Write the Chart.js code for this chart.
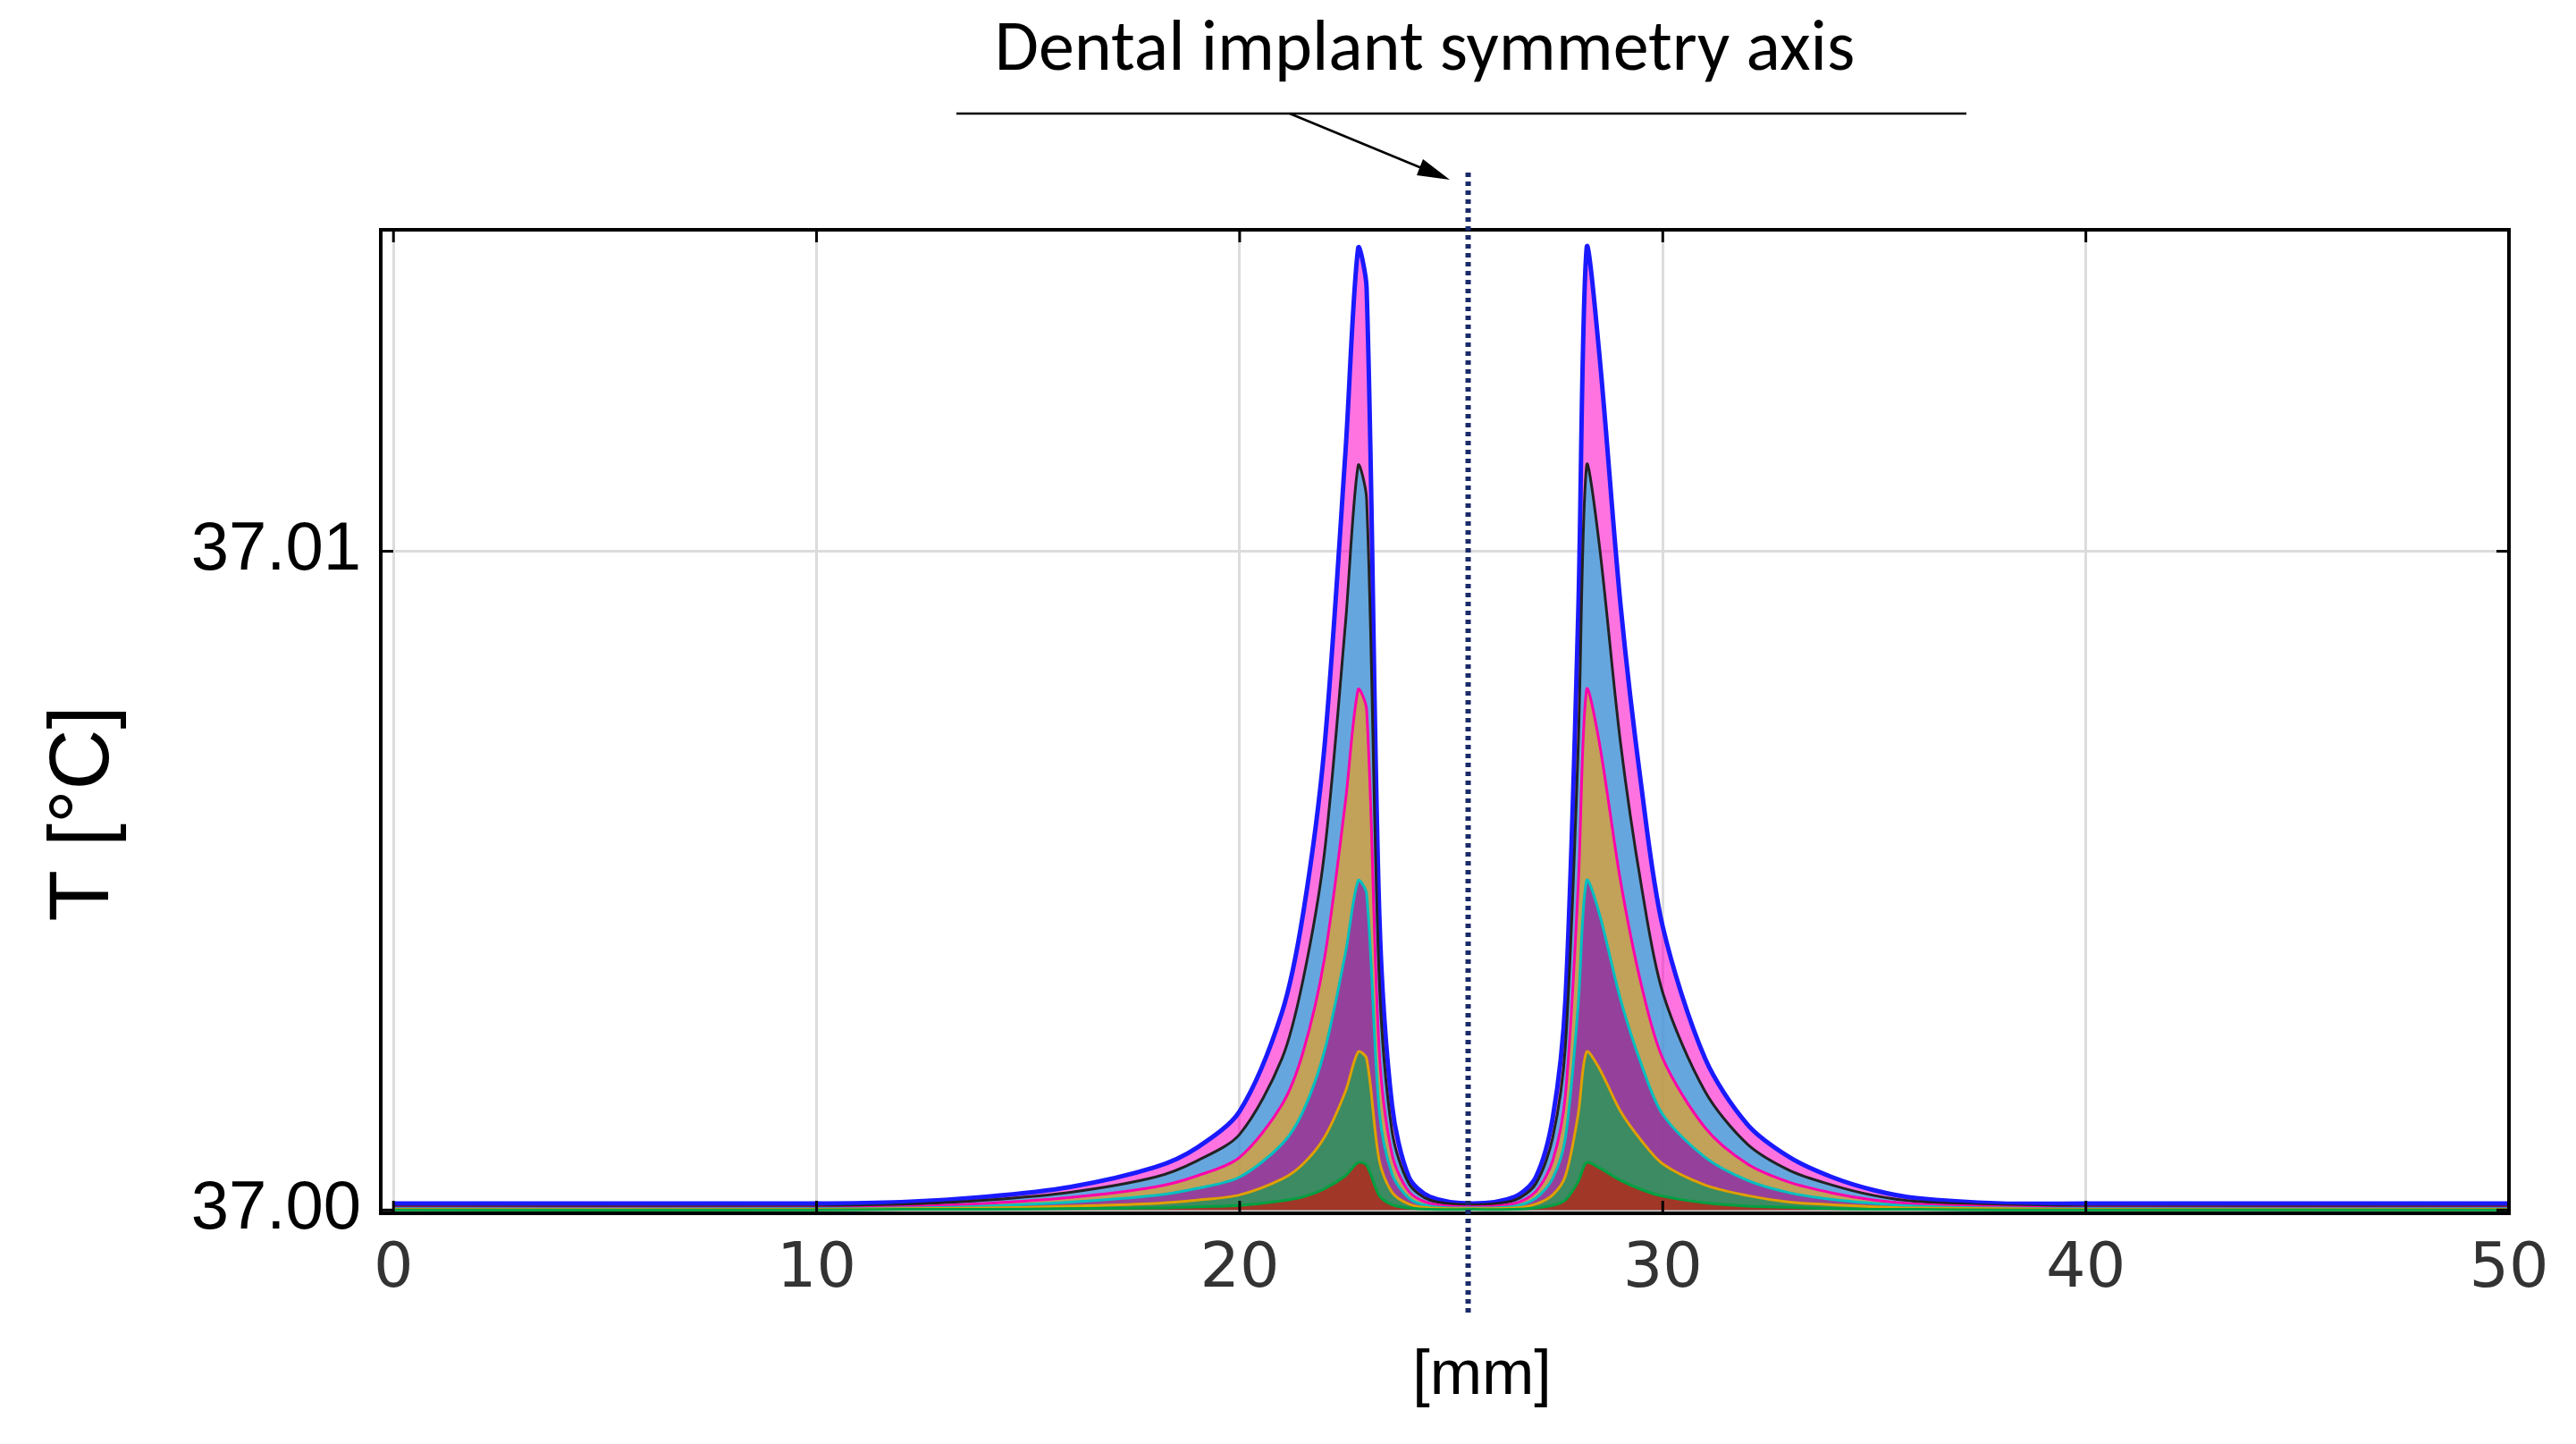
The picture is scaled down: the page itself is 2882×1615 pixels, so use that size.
<!DOCTYPE html>
<html><head><meta charset="utf-8">
<script src="https://cdn.jsdelivr.net/npm/chart.js@4.4.0/dist/chart.umd.min.js"></script>
<style>html,body{margin:0;padding:0;background:#fff}#w{width:2882px;height:1615px}</style>
</head><body><div id="w"><canvas id="c"></canvas></div>
<script>
// x positions [mm]
const xs = [0,10,12,14,16,18,19,20,21,21.5,22,22.5,22.8,23,23.3,23.6,24,24.5,25.5,26.5,27,27.4,27.7,28,28.2,28.5,29,29.5,30,31,32,33,34,35,36,38,40,50];
// temperature rise above 37 °C, in units of 0.001 °C (family of curves, outermost first)
const rise1 = [0.1,0.1,0.12,0.2,0.35,0.65,0.95,1.5,3.0,4.5,7.0,11.5,14.6,14.0,4.5,1.6,0.5,0.2,0.1,0.2,0.5,1.4,3.2,9.0,14.6,13.0,9.2,6.4,4.3,2.3,1.3,0.8,0.5,0.3,0.18,0.1,0.1,0.1];
const rise2 = [0.05,0.05,0.08,0.15,0.27,0.5,0.75,1.15,2.3,3.5,5.4,8.9,11.3,10.8,3.5,1.2,0.4,0.15,0.08,0.15,0.4,1.1,2.5,7.0,11.3,10.1,7.1,4.9,3.3,1.8,1.0,0.6,0.38,0.22,0.13,0.07,0.05,0.05];
const rise3 = [0.03,0.03,0.05,0.1,0.19,0.35,0.52,0.8,1.6,2.4,3.8,6.2,7.9,7.6,2.4,0.85,0.28,0.1,0.05,0.1,0.28,0.75,1.75,4.9,7.9,7.1,5.0,3.4,2.3,1.25,0.7,0.42,0.26,0.15,0.09,0.05,0.03,0.03];
const rise4 = [0.02,0.02,0.03,0.06,0.12,0.22,0.33,0.5,1.0,1.5,2.4,3.9,5.0,4.8,1.5,0.55,0.18,0.06,0.03,0.06,0.18,0.48,1.1,3.1,5.0,4.5,3.2,2.2,1.45,0.8,0.45,0.26,0.16,0.1,0.06,0.03,0.02,0.02];
const rise5 = [0.01,0.01,0.02,0.03,0.06,0.1,0.15,0.23,0.47,0.7,1.1,1.8,2.4,2.3,0.75,0.27,0.09,0.03,0.02,0.03,0.09,0.23,0.52,1.45,2.4,2.15,1.5,1.05,0.7,0.38,0.22,0.12,0.08,0.05,0.03,0.02,0.01,0.01];
const rise6 = [0.0,0.0,0.01,0.01,0.02,0.03,0.05,0.07,0.14,0.2,0.32,0.52,0.72,0.68,0.22,0.08,0.03,0.01,0.01,0.01,0.03,0.07,0.15,0.43,0.72,0.64,0.45,0.31,0.21,0.11,0.06,0.04,0.02,0.01,0.01,0.0,0.0,0.0];
const series = [rise1,rise2,rise3,rise4,rise5,rise6];
const fills = ['rgba(255,0,200,0.55)','rgba(0,200,220,0.6)','rgba(255,160,0,0.6)','rgba(120,0,200,0.6)','rgba(0,190,60,0.6)','rgba(230,0,0,0.6)'];
const lines = ['#1a1aff','#222222','#ff00aa','#00c0c0','#e0a000','#00a040'];
const yTicks = [37.00, 37.01];
const xTicks = [0,10,20,30,40,50];
const axisX = 25.4;

const datasets = series.map((s,i)=>({
  data: xs.map((x,j)=>({x:x,y:37+s[j]/1000})),
  borderColor: lines[i], backgroundColor: fills[i], fill: {value:37.0},
  borderWidth: i===0?5:3, pointRadius:0, tension:0.3, order: -i
}));

const deco = {
  id:'deco',
  afterDraw(ch){
    const c=ch.ctx, a=ch.chartArea, sx=ch.scales.x;
    c.save();
    c.strokeStyle='#000'; c.lineWidth=4; c.strokeRect(a.left,a.top,a.right-a.left,a.bottom-a.top);
    c.lineWidth=3;
    xTicks.forEach(t=>{const p=sx.getPixelForValue(t);c.beginPath();c.moveTo(p,a.top);c.lineTo(p,a.top+14);c.stroke();c.beginPath();c.moveTo(p,a.bottom);c.lineTo(p,a.bottom-14);c.stroke();});
    yTicks.forEach(t=>{const p=ch.scales.y.getPixelForValue(t);c.beginPath();c.moveTo(a.right,p);c.lineTo(a.right-14,p);c.stroke();c.beginPath();c.moveTo(a.left,p);c.lineTo(a.left+14,p);c.stroke();});
    const px=sx.getPixelForValue(axisX);
    c.strokeStyle='#1a2a6a'; c.lineWidth=6; c.setLineDash([5,5]);
    c.beginPath(); c.moveTo(px,193); c.lineTo(px,1472); c.stroke(); c.setLineDash([]);
    c.fillStyle='#000'; c.font='80px Carlito, Calibri, "Liberation Sans", sans-serif'; c.textAlign='center'; c.textBaseline='middle';
    c.fillText('Dental implant symmetry axis',1594,58);
    c.strokeStyle='#000'; c.lineWidth=2.5;
    c.beginPath(); c.moveTo(1070,127); c.lineTo(2200,127); c.stroke();
    c.beginPath(); c.moveTo(1443,127); c.lineTo(1610,196); c.stroke();
    c.beginPath(); c.moveTo(1622,201); c.lineTo(1592,178); c.lineTo(1585,196); c.closePath(); c.fill();
    c.font='70px "Liberation Sans", sans-serif';
    c.fillText('[mm]',1658,1540);
    c.save(); c.translate(95,910); c.rotate(-Math.PI/2); c.font='94px "Liberation Sans", sans-serif'; c.fillText('T [°C]',0,0); c.restore();
    c.restore();
  }
};

new Chart(document.getElementById('c'),{
  type:'line',
  data:{datasets},
  plugins:[deco],
  options:{
    responsive:true, maintainAspectRatio:false, animation:false,
    layout:{padding:{top:257,right:75,left:0,bottom:0}},
    plugins:{legend:{display:false},tooltip:{enabled:false}},
    scales:{
      x:{type:'linear',min:-0.3,max:50,
        afterBuildTicks(s){s.ticks=xTicks.map(v=>({value:v}));},
        afterFit(s){s.height=258;},
        grid:{color:'#dcdcdc',lineWidth:3,drawTicks:false},border:{display:false},
        ticks:{color:'#333',padding:22,font:{size:70,family:'"DejaVu Sans", sans-serif'},maxRotation:0}},
      y:{type:'linear',min:36.99995,max:37.01488,
        afterBuildTicks(s){s.ticks=yTicks.map(v=>({value:v}));},
        afterFit(s){s.width=426;},
        grid:{color:'#dcdcdc',lineWidth:3,drawTicks:false},border:{display:false},
        ticks:{color:'#000',padding:22,font:{size:76,family:'"Liberation Sans", sans-serif'},callback:v=>v.toFixed(2)}}
    }
  }
});
</script></body></html>
